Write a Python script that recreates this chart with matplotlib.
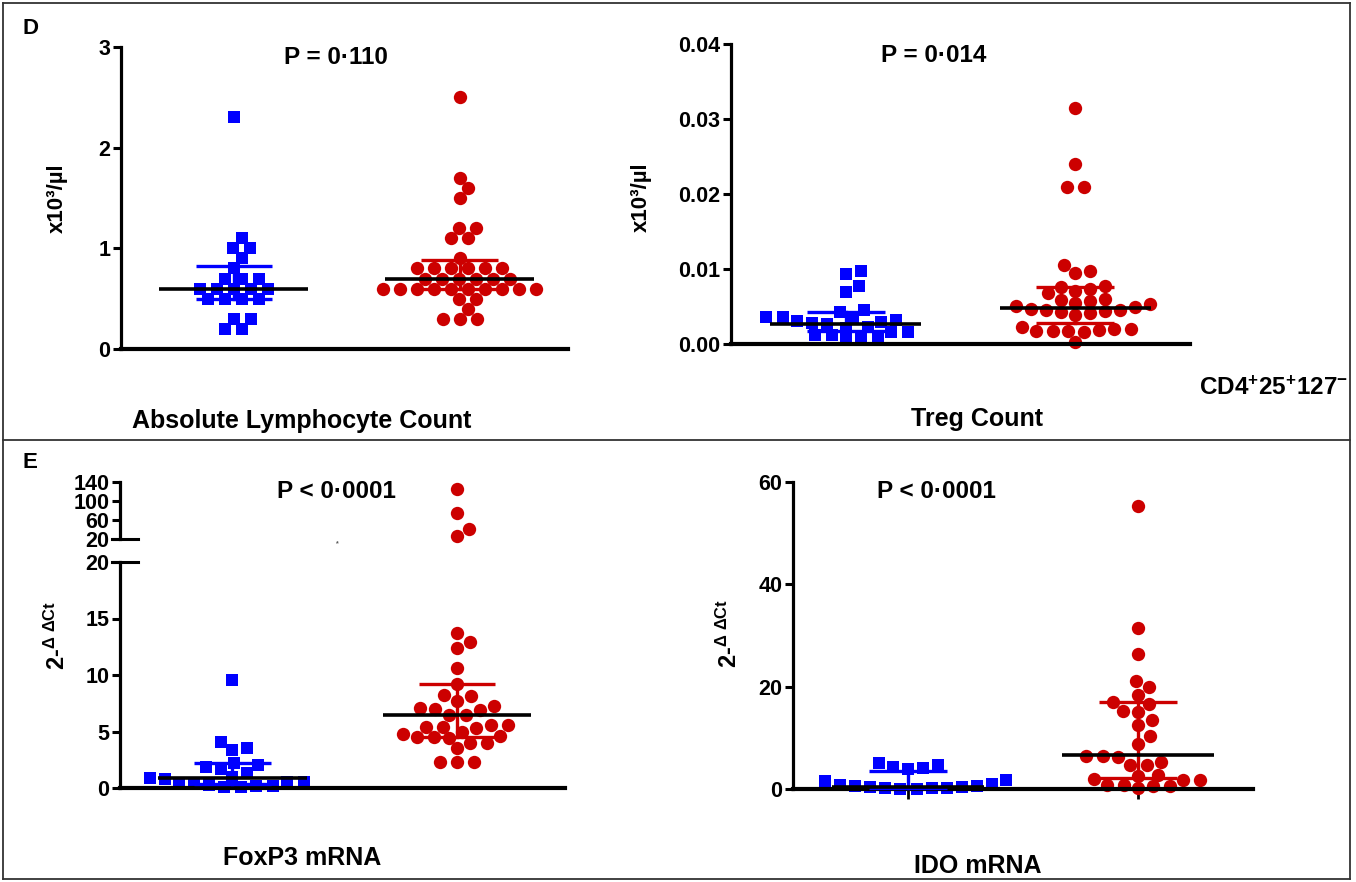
import numpy as np
import matplotlib
matplotlib.use("Agg")
import matplotlib.pyplot as plt
from matplotlib.lines import Line2D

# ---- data ----
alc_ctrl = [2.3, 1.1, 1.0, 1.0, 0.9, 0.8, 0.7, 0.7, 0.7, 0.6, 0.6, 0.6, 0.6, 0.6,
            0.5, 0.5, 0.5, 0.5, 0.3, 0.3, 0.2, 0.2]
alc_case = [2.5, 1.7, 1.6, 1.5, 1.2, 1.2, 1.1, 1.1, 0.9,
            0.8, 0.8, 0.8, 0.8, 0.8, 0.8, 0.7, 0.7, 0.7, 0.7, 0.7, 0.7,
            0.6, 0.6, 0.6, 0.6, 0.6, 0.6, 0.6, 0.6, 0.6, 0.6,
            0.5, 0.5, 0.4, 0.3, 0.3, 0.3]

treg_ctrl = [0.0097, 0.0093, 0.0077, 0.0070, 0.0046, 0.0043, 0.0036, 0.0036, 0.0035,
             0.0032, 0.0031, 0.0030, 0.0028, 0.0027, 0.0023, 0.0021, 0.0016, 0.0016,
             0.0012, 0.0012, 0.0009, 0.0009, 0.0005]
treg_case = [0.0315, 0.0240, 0.0210, 0.0210, 0.0106, 0.0097, 0.0095, 0.0077, 0.0076,
             0.0073, 0.0071, 0.0068, 0.0060, 0.0059, 0.0057, 0.0055, 0.0053, 0.0051,
             0.0049, 0.0047, 0.0046, 0.0045, 0.0044, 0.0043, 0.0041, 0.0039, 0.0023,
             0.0020, 0.0020, 0.0019, 0.0018, 0.0018, 0.0017, 0.0016, 0.0003]

foxp3_ctrl = [9.6, 4.1, 3.5, 3.4, 2.2, 2.0, 1.9, 1.7, 1.3, 1.0, 0.86, 0.77, 0.56, 0.56,
              0.41, 0.35, 0.27, 0.18, 0.18, 0.06, 0.06]
foxp3_case = [126, 73.7, 40.9, 26.3, 13.7, 12.9, 12.4, 10.6, 9.2, 8.2, 8.1, 7.7, 7.3,
              7.1, 7.0, 6.9, 6.5, 6.5, 5.6, 5.6, 5.4, 5.4, 5.3, 5.0, 4.8, 4.6, 4.5,
              4.5, 4.4, 4.0, 4.0, 3.5, 2.3, 2.3, 2.3]

ido_ctrl = [5.1, 4.6, 4.3, 4.1, 3.9, 1.8, 1.5, 1.0, 0.8, 0.6, 0.5, 0.4, 0.3, 0.2,
            0.15, 0.1, 0.05, 0.05]
ido_case = [55.3, 31.4, 26.4, 21.1, 20.0, 18.4, 17.0, 16.7, 15.2, 15.0, 13.5, 12.6,
            10.3, 8.8, 6.5, 6.5, 6.2, 5.2, 4.7, 4.7, 2.7, 2.6, 2.0, 1.8, 1.8, 0.8,
            0.8, 0.5, 0.5, 0.1]

# median, q1, q3 (as drawn)
alc_stats = [(0.6, 0.5, 0.82), (0.7, 0.6, 0.88)]
treg_stats = [(0.0027, 0.0017, 0.0043), (0.0048, 0.0028, 0.0076)]
foxp3_stats = [(0.9, 0.35, 2.2), (6.5, 4.5, 9.2)]
ido_stats = [(0.4, 0.1, 3.6), (6.6, 2.2, 17.0)]

p_texts = ["P = 0\u00b7110", "P = 0\u00b7014", "P < 0\u00b70001", "P < 0\u00b70001"]
x_titles = ["Absolute Lymphocyte Count", "Treg Count", "FoxP3 mRNA", "IDO mRNA"]

BLUE = "#0000ff"
RED = "#cc0000"

plt.rcParams['font.family'] = ['Liberation Sans', 'DejaVu Sans']
plt.rcParams['font.weight'] = 'bold'
plt.rcParams['mathtext.fontset'] = 'custom'
plt.rcParams['mathtext.rm'] = 'Liberation Sans:bold'
plt.rcParams['mathtext.bf'] = 'Liberation Sans:bold'
plt.rcParams['mathtext.it'] = 'Liberation Sans:bold'

W, H = 1356, 882
fig = plt.figure(figsize=(W / 100, H / 100), dpi=100)


def px_axes(x0, y0, x1, y1):
    return fig.add_axes([x0 / W, 1 - y1 / H, (x1 - x0) / W, (y1 - y0) / H])


def style(ax, ylim, yticks, fmt, xlim, xticks=False):
    ax.set_ylim(*ylim)
    ax.set_xlim(*xlim)
    ax.spines['top'].set_visible(False)
    ax.spines['right'].set_visible(False)
    ax.spines['left'].set_linewidth(2.3)
    ax.spines['bottom'].set_linewidth(3)
    ax.set_yticks(yticks)
    ax.set_yticklabels([fmt.format(t) for t in yticks])
    ax.tick_params(axis='y', length=5.5, width=2.2, pad=2, labelsize=15.5)
    if xticks:
        ax.set_xticks([0, 1])
        ax.set_xticklabels([])
        ax.tick_params(axis='x', length=7, width=2)
    else:
        ax.set_xticks([])
    ax.patch.set_alpha(0)


def swarm_x(ax, center, vals, dx0=15.0, dy0=12.0, row=17.0):
    # beeswarm in pixel space: equal values form a centred row, rows are placed
    # bottom-up at the free shift nearest the centre (elliptical keep-out zone)
    vals = np.asarray(vals, float)
    ypix = ax.transData.transform(np.column_stack([np.full(len(vals), center), vals]))[:, 1]
    xscale = ax.transData.transform([(1, 0)])[0, 0] - ax.transData.transform([(0, 0)])[0, 0]
    steps = np.arange(0.25, 160, 0.25)
    cands = np.concatenate([[0.0], np.column_stack([steps, -steps]).ravel()])
    offs = np.zeros(len(vals))
    px, py = np.empty(0), np.empty(0)
    for v in np.unique(vals):
        idx = np.where(vals == v)[0]
        n = len(idx)
        base = (np.arange(n) - (n - 1) / 2) * row
        y = ypix[idx[0]]
        chosen = 0.0
        if len(px):
            pos = cands[:, None, None] + base[None, :, None]
            r2 = ((pos - px[None, None, :]) / dx0) ** 2 + ((y - py[None, None, :]) / dy0) ** 2
            ok = np.all(r2 >= 0.999, axis=(1, 2))
            chosen = cands[np.argmax(ok)] if ok.any() else cands[-1]
        offs[idx] = chosen + base
        px = np.concatenate([px, chosen + base])
        py = np.concatenate([py, np.full(n, y)])
    return center + offs / xscale


def dots(ax, x, vals, color, marker):
    xs = swarm_x(ax, x, vals)
    size = 9.2 if marker == 's' else 9.6
    ax.scatter(xs, vals, s=size ** 2, marker=marker, color=color, linewidths=0,
               clip_on=False, zorder=2)


def summary(ax, x, stats, color):
    med, lo, hi = stats
    ax.plot([x, x], [lo, hi], color=color, lw=2.4, zorder=4, clip_on=False)
    for v in (lo, hi):
        ax.plot([x - 0.17, x + 0.17], [v, v], color=color, lw=2.4, zorder=4,
                solid_capstyle='butt', clip_on=False)
    ax.plot([x - 0.33, x + 0.33], [med, med], color='black', lw=2.6, zorder=5,
            solid_capstyle='butt', clip_on=False)


# ---- D: absolute lymphocyte count ----
ax = px_axes(121, 47, 568, 349)
style(ax, (0, 3), [0, 1, 2, 3], "{:g}", (-0.5, 1.48))
dots(ax, 0, alc_ctrl, BLUE, 's')
dots(ax, 1, alc_case, RED, 'o')
summary(ax, 0, alc_stats[0], BLUE)
summary(ax, 1, alc_stats[1], RED)

# ---- D: Treg count ----
ax = px_axes(731, 44, 1190, 344)
style(ax, (0, 0.04), [0, 0.01, 0.02, 0.03, 0.04], "{:.2f}", (-0.5, 1.5))
dots(ax, 0, treg_ctrl, BLUE, 's')
dots(ax, 1, treg_case, RED, 'o')
summary(ax, 0, treg_stats[0], BLUE)
summary(ax, 1, treg_stats[1], RED)

# ---- E: FoxP3 (broken axis) ----
fox_case = np.asarray(foxp3_case)
ax_lo = px_axes(120, 562, 565, 788)
ax_hi = px_axes(120, 482, 565, 539)
style(ax_lo, (0, 20), [0, 5, 10, 15, 20], "{:g}", (-0.5, 1.48))
style(ax_hi, (20, 140), [20, 60, 100, 140], "{:g}", (-0.5, 1.48))
ax_hi.spines['bottom'].set_visible(False)
dots(ax_lo, 0, foxp3_ctrl, BLUE, 's')
dots(ax_lo, 1, fox_case[fox_case <= 20], RED, 'o')
dots(ax_hi, 1, fox_case[fox_case > 20], RED, 'o')
summary(ax_lo, 0, foxp3_stats[0], BLUE)
summary(ax_lo, 1, foxp3_stats[1], RED)
# break caps
ax_hi.plot([-0.018, 0.04], [20, 20], color='black', lw=2.2,
           transform=ax_hi.get_yaxis_transform(), clip_on=False)
ax_lo.plot([-0.018, 0.04], [20, 20], color='black', lw=2.2,
           transform=ax_lo.get_yaxis_transform(), clip_on=False)

# ---- E: IDO ----
ax = px_axes(793, 482, 1253, 789)
style(ax, (0, 60), [0, 20, 40, 60], "{:g}", (-0.5, 1.5), xticks=True)
dots(ax, 0, ido_ctrl, BLUE, 's')
dots(ax, 1, ido_case, RED, 'o')
summary(ax, 0, ido_stats[0], BLUE)
summary(ax, 1, ido_stats[1], RED)


def ftext(x, y, s, **kw):
    kw.setdefault('ha', 'center')
    kw.setdefault('va', 'center')
    fig.text(x / W, 1 - y / H, s, **kw)


ftext(30, 29, "D", fontsize=16)
ftext(30, 463, "E", fontsize=16)
for (px, py), s in zip([(336, 57), (934, 55), (336, 492), (936, 492)], p_texts):
    ftext(px, py, s, fontsize=17.5)
for (px, py), s in zip([(302, 421), (977, 419), (302, 858), (978, 866)], x_titles):
    ftext(px, py, s, fontsize=18)
ftext(1199, 388, r"CD4$^{+}$25$^{+}$127$^{-}$", fontsize=17.5, ha='left')
ftext(57, 198, "x10\u00b3/\u00b5l", fontsize=16, rotation=90)
ftext(641, 197, "x10\u00b3/\u00b5l", fontsize=16, rotation=90)
ftext(57, 635, r"2-$^{\Delta\ \Delta Ct}$", fontsize=17, rotation=90)
ftext(729, 633, r"2-$^{\Delta\ \Delta Ct}$", fontsize=17, rotation=90)
ftext(337, 544, "*", fontsize=5, color='#555555')

# frame and divider
frame = [((3, 3), (1350, 3)), ((3, 3), (3, 879)), ((1350, 3), (1350, 879)),
         ((3, 879), (1350, 879)), ((3, 440), (1350, 440))]
for (x0, y0), (x1, y1) in frame:
    fig.add_artist(Line2D([x0 / W, x1 / W], [1 - y0 / H, 1 - y1 / H],
                          transform=fig.transFigure, color='#333333', lw=1.3))

fig.savefig("out.png", dpi=100)
